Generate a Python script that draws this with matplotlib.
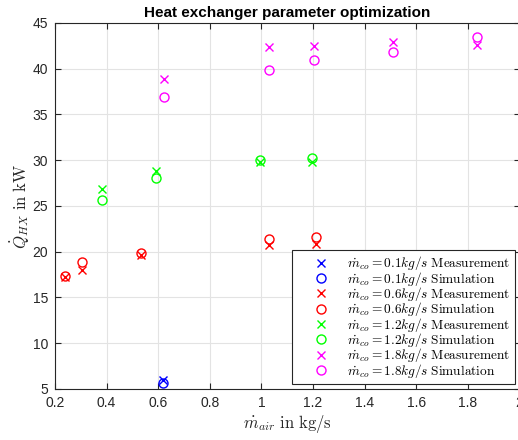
import matplotlib
matplotlib.use("Agg")
import matplotlib.pyplot as plt

# coolant mass flows (kg/s) and the measured / simulated heat flow in kW
flows = ["0.1", "0.6", "1.2", "1.8"]
colors = ["#0000ff", "#ff0000", "#00ff00", "#ff00ff"]

m_air_01 = [0.62]
meas_01 = [5.95]
sim_01 = [5.6]

m_air_06 = [0.24, 0.306, 0.535, 1.03, 1.21]
meas_06 = [17.2, 18.05, 19.6, 20.7, 20.8]
sim_06 = [17.3, 18.85, 19.85, 21.35, 21.65]

m_air_12 = [0.382, 0.592, 0.995, 1.195]
meas_12 = [26.9, 28.8, 29.85, 29.85]
sim_12 = [25.7, 28.0, 30.05, 30.2]

m_air_18 = [0.622, 1.028, 1.203, 1.508, 1.835]
meas_18 = [38.9, 42.35, 42.45, 42.95, 42.6]
sim_18 = [36.85, 39.9, 40.95, 41.85, 43.5]

x_data = [m_air_01, m_air_06, m_air_12, m_air_18]
meas_data = [meas_01, meas_06, meas_12, meas_18]
sim_data = [sim_01, sim_06, sim_12, sim_18]

plt.rcParams["mathtext.fontset"] = "cm"
plt.rcParams["font.family"] = ["Liberation Sans", "DejaVu Sans"]
axis_gray = "#262626"

fig = plt.figure(figsize=(5.18, 4.4), dpi=100)
ax = fig.add_axes([0.106, 0.116, 0.897, 0.832])

for flow, c, xs, ms, ss in zip(flows, colors, x_data, meas_data, sim_data):
    ax.plot(xs, ms, linestyle="none", marker="x", markersize=6, markeredgewidth=1.0,
            color=c, label=r"$\dot{m}_{co} = %skg/s\ \mathrm{Measurement}$" % flow)
    ax.plot(xs, ss, linestyle="none", marker="o", markersize=6.5, markeredgewidth=1.0,
            markerfacecolor="none", markeredgecolor=c,
            label=r"$\dot{m}_{co} = %skg/s\ \mathrm{Simulation}$" % flow)

ax.set_xlim(0.2, 2.0)
ax.set_ylim(5, 45)
ax.set_xticks([0.2, 0.4, 0.6, 0.8, 1.0, 1.2, 1.4, 1.6, 1.8, 2.0])
ax.set_xticklabels(["0.2", "0.4", "0.6", "0.8", "1", "1.2", "1.4", "1.6", "1.8", "2"])
ax.set_yticks(range(5, 46, 5))

ax.grid(True, color="#e3e3e3", linewidth=0.8)
ax.set_axisbelow(True)
ax.tick_params(direction="in", top=True, right=True, length=4, width=0.8,
               labelsize=10, colors=axis_gray, pad=5)
for spine in ax.spines.values():
    spine.set_color(axis_gray)
    spine.set_linewidth(0.8)

ax.set_title("Heat exchanger parameter optimization", fontsize=11, fontweight="bold",
             color="black", pad=4)
ax.set_xlabel(r"$\dot{m}_{air}\ \mathrm{in\ kg/s}$", fontsize=12, color=axis_gray, labelpad=2)
ax.set_ylabel(r"$\dot{Q}_{HX}\ \mathrm{in\ kW}$", fontsize=12, color=axis_gray, labelpad=0)

# tight rows so the legend stays below the 1.2 kg/s air flow points
leg = ax.legend(loc="lower right", fontsize=9.6, frameon=True, fancybox=False,
                framealpha=1, edgecolor=axis_gray, handlelength=3.6,
                handletextpad=0.15, labelspacing=-0.2, borderpad=0.35,
                borderaxespad=0.35)
leg.get_frame().set_linewidth(0.8)

fig.savefig("out.png", dpi=100)
